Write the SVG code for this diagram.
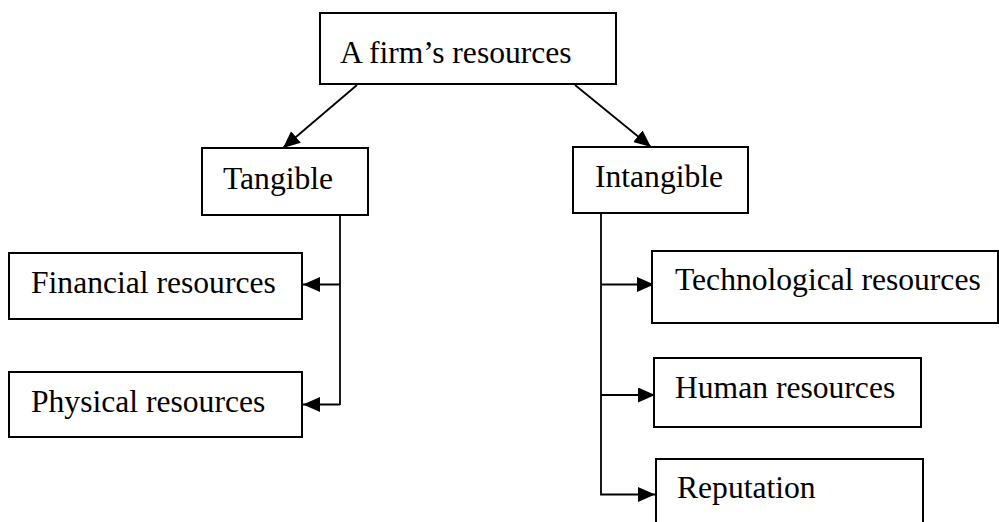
<svg xmlns="http://www.w3.org/2000/svg" width="999" height="522" viewBox="0 0 999 522">
<style>
.box{fill:#fff;stroke:#000;stroke-width:2}
.lbl{font-family:"Liberation Serif","Times New Roman",serif;font-size:31.6px;fill:#000}
.con{fill:none;stroke:#000;stroke-width:1.8}
</style>
<defs>
<marker id="ah" markerUnits="userSpaceOnUse" markerWidth="17" markerHeight="15" refX="17" refY="7.5" orient="auto">
<path d="M0,0 L17,7.5 L0,15 Z" fill="#000"/>
</marker>
</defs>
<rect width="999" height="522" fill="#fff"/>
<g id="connectors">
<line class="con" x1="357" y1="85" x2="283" y2="148" marker-end="url(#ah)"/>
<line class="con" x1="575" y1="85" x2="651" y2="147" marker-end="url(#ah)"/>
<polyline class="con" points="340,215 340,405"/>
<line class="con" x1="340" y1="284.5" x2="303" y2="284.5" marker-end="url(#ah)"/>
<line class="con" x1="340" y1="404.5" x2="303" y2="404.5" marker-end="url(#ah)"/>
<polyline class="con" points="601,213 601,494.5 655,494.5" marker-end="url(#ah)"/>
<line class="con" x1="601" y1="284.5" x2="654" y2="284.5" marker-end="url(#ah)"/>
<line class="con" x1="601" y1="395" x2="655" y2="395" marker-end="url(#ah)"/>
</g>
<g id="root">
<rect class="box" x="320" y="13" width="296" height="71"/>
<text class="lbl" x="340" y="63">A firm’s resources</text>
</g>
<g id="tangible">
<rect class="box" x="202" y="148" width="166" height="67"/>
<text class="lbl" x="223" y="189">Tangible</text>
</g>
<g id="intangible">
<rect class="box" x="573" y="147" width="175" height="66"/>
<text class="lbl" x="595" y="187">Intangible</text>
</g>
<g id="financial">
<rect class="box" x="9" y="253" width="293" height="66"/>
<text class="lbl" x="31" y="293">Financial resources</text>
</g>
<g id="physical">
<rect class="box" x="9" y="372" width="293" height="65"/>
<text class="lbl" x="31" y="412">Physical resources</text>
</g>
<g id="technological">
<rect class="box" x="652" y="251" width="346" height="72"/>
<text class="lbl" x="675" y="290">Technological resources</text>
</g>
<g id="human">
<rect class="box" x="654" y="358" width="267" height="69"/>
<text class="lbl" x="675" y="398">Human resources</text>
</g>
<g id="reputation">
<rect class="box" x="656" y="459" width="267" height="80"/>
<text class="lbl" x="677" y="498">Reputation</text>
</g>
</svg>
